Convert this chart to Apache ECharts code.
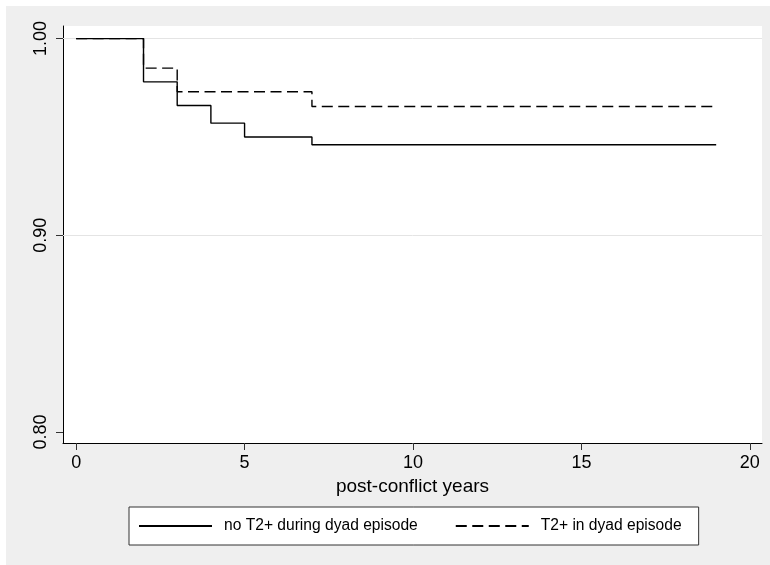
<!DOCTYPE html>
<html>
<head>
<meta charset="utf-8">
<title>Survival by post-conflict years</title>
<script src="https://cdn.jsdelivr.net/npm/echarts@6/dist/echarts.min.js"></script>
<style>
  html, body { margin: 0; padding: 0; background: #ffffff; }
  #chart { position: absolute; left: 6px; top: 6px; width: 764px; height: 559px; }
</style>
</head>
<body>
<div id="chart"></div>
<script>
// Kaplan-Meier style step estimates, by group
const yearsNoT2 = [0, 2, 3, 4, 5, 7, 19];
const survNoT2  = [1.000, 0.978, 0.966, 0.957, 0.950, 0.946, 0.946];

const yearsT2 = [0, 2, 3, 7, 19];
const survT2  = [1.000, 0.985, 0.973, 0.9655, 0.9655];

const seriesNames = ['no T2+ during dyad episode', 'T2+ in dyad episode'];

const xTicks = [0, 5, 10, 15, 20];
const yTicks = [0.80, 0.90, 1.00];
const yGridLines = [0.90, 1.00];

const FONT = "'Liberation Sans', Arial, Helvetica, sans-serif";

function pairs(xs, ys) {
  return xs.map((x, i) => [x, ys[i]]);
}

const chart = echarts.init(document.getElementById('chart'), null, { renderer: 'canvas' });

chart.setOption({
  backgroundColor: '#efefef',
  animation: false,
  textStyle: { fontFamily: FONT },
  grid: {
    left: 57, top: 20, right: 8, bottom: 122,
    show: true, backgroundColor: '#ffffff', borderWidth: 0
  },
  xAxis: {
    type: 'value',
    min: -0.39, max: 20.36,
    name: 'post-conflict years',
    nameLocation: 'middle',
    nameGap: 34,
    nameTextStyle: { fontSize: 19, color: '#000', fontFamily: FONT },
    axisLine: { show: true, onZero: false, lineStyle: { color: '#000', width: 1 } },
    axisTick: { show: true, length: 7, customValues: xTicks, lineStyle: { color: '#333', width: 1 } },
    axisLabel: { customValues: xTicks, margin: 11, fontSize: 18, color: '#000', fontFamily: FONT },
    splitLine: { show: false }
  },
  yAxis: {
    type: 'value',
    min: 0.7944, max: 1.0064,
    axisLine: { show: true, onZero: false, lineStyle: { color: '#000', width: 1 } },
    axisTick: { show: true, length: 7, customValues: yTicks, lineStyle: { color: '#333', width: 1 } },
    axisLabel: {
      customValues: yTicks, rotate: 90, margin: 13, fontSize: 18, color: '#000', fontFamily: FONT,
      formatter: v => v.toFixed(2)
    },
    splitLine: { show: false }
  },
  legend: {
    top: 501,
    left: 123,
    orient: 'horizontal',
    backgroundColor: '#ffffff',
    borderColor: '#333',
    borderWidth: 1,
    borderRadius: 0,
    padding: [11, 17, 11, 9],
    itemWidth: 73,
    itemHeight: 14,
    itemGap: 37,
    itemStyle: { opacity: 0 },
    textStyle: { fontSize: 15.6, color: '#000', fontFamily: FONT, padding: [0, 0, 0, 7] },
    data: seriesNames
  },
  series: [
    {
      name: seriesNames[0],
      type: 'line',
      step: 'end',
      symbol: 'none',
      z: 3,
      lineStyle: { color: '#000', width: 1.4, type: 'solid' },
      data: pairs(yearsNoT2, survNoT2),
      markLine: {
        silent: true,
        z: 1,
        symbol: ['none', 'none'],
        label: { show: false },
        lineStyle: { color: '#e4e4e4', width: 1, type: 'solid' },
        data: yGridLines.map(v => ({ yAxis: v }))
      }
    },
    {
      name: seriesNames[1],
      type: 'line',
      step: 'end',
      symbol: 'none',
      z: 2,
      lineStyle: { color: '#000', width: 1.4, type: [11, 5.5] },
      data: pairs(yearsT2, survT2)
    }
  ]
});
</script>
</body>
</html>
